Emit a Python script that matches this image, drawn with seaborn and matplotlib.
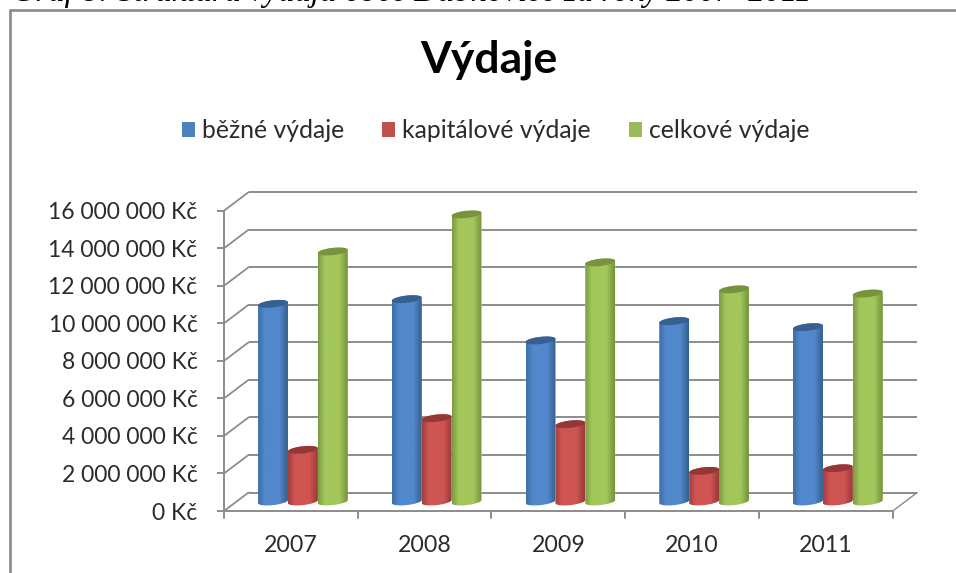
import numpy as np
import pandas as pd
import seaborn as sns
import matplotlib.pyplot as plt
from matplotlib.colors import LinearSegmentedColormap
from matplotlib.lines import Line2D
from matplotlib.patches import Polygon, Patch
from matplotlib.path import Path

years = ["2007", "2008", "2009", "2010", "2011"]
bezne = [10530000, 10780000, 8580000, 9610000, 9290000]
kapitalove = [2750000, 4440000, 4120000, 1630000, 1770000]
celkove = [13320000, 15300000, 12740000, 11300000, 11080000]
series_names = ["běžné výdaje", "kapitálové výdaje", "celkové výdaje"]
y_ticks = [0, 2000000, 4000000, 6000000, 8000000, 10000000, 12000000, 14000000, 16000000]
y_labels = ["0 Kč", "2 000 000 Kč", "4 000 000 Kč", "6 000 000 Kč", "8 000 000 Kč",
            "10 000 000 Kč", "12 000 000 Kč", "14 000 000 Kč", "16 000 000 Kč"]
title = "Výdaje"
caption = "Graf 8: Struktura výdajů obce Dubňovice za roky 2007–2011"

# base colour, then edge / centre colours of the cylinders
palette = ["#4f81bd", "#c0504d", "#9bbb59"]
top_colors = ["#376092", "#953735", "#77933c"]
ramps = [["#3d6da5", "#5288cc", "#5288cc", "#35608f"],
         ["#a03f3d", "#cf5552", "#cf5552", "#983a38"],
         ["#7d9a42", "#a3c75b", "#a3c75b", "#76923c"]]

df = pd.DataFrame({"rok": years * 3,
                   "typ": sum([[n] * len(years) for n in series_names], []),
                   "vydaje": bezne + kapitalove + celkove})

sns.set_theme(style="white")
plt.rcParams["font.family"] = ["Lato", "DejaVu Sans"]
W, H = 956, 573
text_color = "#2b2b2b"
line_color = "#8c8c8c"

fig = plt.figure(figsize=(W / 100, H / 100), dpi=100)
ax = fig.add_axes([224 / W, (H - 511) / H, 668.7 / W, 300.3 / H])

sns.barplot(data=df, x="rok", y="vydaje", hue="typ", hue_order=series_names,
            palette=palette, width=0.67, gap=0, saturation=1, legend=False, ax=ax)
ax.set_xlim(-0.5, 4.5)
ax.set_ylim(0, 16000000)

# pixel sizes in data units
px_x = 5 / 668.7
px_y = 16000000 / 300.3
depth_x = 24.5 * px_x
depth_y = 18.5 * px_y

# back wall + side wall + floor
ax.hlines([y + depth_y for y in y_ticks], -0.5 + depth_x, 4.5 + depth_x,
          colors=line_color, lw=1.4, clip_on=False, zorder=1)
for y in y_ticks:
    ax.plot([-0.5, -0.5 + depth_x], [y, y + depth_y], color=line_color, lw=1.3,
            clip_on=False, zorder=1)
ax.plot([4.5, 4.5 + depth_x], [0, depth_y], color=line_color, lw=1.0, clip_on=False, zorder=1)

# turn the flat bars into cylinders
shift_x = 12 * px_x
shift_y = 9.5 * px_y
half_h = 3.6 * px_y
tilt = 1.6 * px_y
t_low = np.linspace(np.pi, 2 * np.pi, 40)
t_up = np.linspace(0, np.pi, 40)

for i, bars in enumerate(ax.containers):
    cmap = LinearSegmentedColormap.from_list(
        "cyl", list(zip([0, 0.22, 0.72, 1], ramps[i])))
    for p in bars:
        x0 = p.get_x() + shift_x
        w = p.get_width()
        h = p.get_height()
        p.set_x(x0)
        p.set_y(shift_y)
        p.set_zorder(3 + i)
        xc = x0 + w / 2
        yb = shift_y
        yt = shift_y + h
        low_x = xc + w / 2 * np.cos(t_low)
        low_y = yb + half_h * np.sin(t_low) + tilt * np.cos(t_low)
        up_x = xc + w / 2 * np.cos(t_up)
        up_y = yt + half_h * np.sin(t_up) + tilt * np.cos(t_up)
        body = Path(np.vstack([np.column_stack([low_x, low_y]),
                               np.column_stack([up_x, up_y]),
                               [[low_x[0], low_y[0]]]]), closed=True)
        p.set_clip_path(body, ax.transData)
        im = ax.imshow(np.linspace(0, 1, 64).reshape(1, -1), cmap=cmap, aspect="auto",
                       extent=[x0, x0 + w, yb - 2 * half_h, yt + 2 * half_h],
                       zorder=3 + i, interpolation="bilinear")
        im.set_clip_path(body, ax.transData)
        t = np.linspace(0, 2 * np.pi, 80)
        ax.add_patch(Polygon(np.column_stack([xc + w / 2 * np.cos(t),
                                              yt + half_h * np.sin(t) + tilt * np.cos(t)]),
                             closed=True, fc=top_colors[i], ec="none", zorder=3.5 + i,
                             clip_on=False))
ax.set_xlim(-0.5, 4.5)
ax.set_ylim(0, 16000000)

# axes
sns.despine(ax=ax, top=True, right=True)
for s in ["left", "bottom"]:
    ax.spines[s].set_color(line_color)
    ax.spines[s].set_linewidth(1.4)
ax.set_xlabel("")
ax.set_ylabel("")
ax.set_yticks(y_ticks)
ax.set_yticklabels(y_labels, fontsize=16.5, color=text_color)
ax.set_xticks(range(len(years)))
ax.set_xticklabels(years, fontsize=16.7, color=text_color)
ax.tick_params(axis="x", length=0, pad=17)
ax.tick_params(axis="y", length=5, width=1.4, color=line_color, pad=14, left=True)
for x in np.arange(-0.5, 5):
    ax.plot([x, x], [0, -7 * px_y], color=line_color, lw=1.4, clip_on=False, zorder=2)

# title, legend, caption, frame
fig.text(489 / W, 1 - 60 / H, title, ha="center", va="center", fontsize=32,
         fontweight="bold", color="black")
handles = [Patch(fc=c, ec="none") for c in palette]
fig.legend(handles, series_names, ncol=3, frameon=False, loc="center",
           bbox_to_anchor=(495.5 / W, 1 - 131 / H), fontsize=17.8, labelcolor=text_color,
           handlelength=0.53, handleheight=0.53, handletextpad=0.28, columnspacing=1.54)
fig.text(12 / W, 1 - 1.5 / H, caption, ha="left", va="baseline", fontsize=23.5,
         fontstyle="italic", family="Liberation Serif", color="black")
fig.add_artist(Line2D([9.7 / W, 9.7 / W], [0, 1 - 9.5 / H], color="#8a8a8a", lw=1.9))
fig.add_artist(Line2D([9.7 / W, 1], [1 - 9.5 / H, 1 - 9.5 / H], color="#8a8a8a", lw=1.9))

fig.savefig("out.png", dpi=100)
